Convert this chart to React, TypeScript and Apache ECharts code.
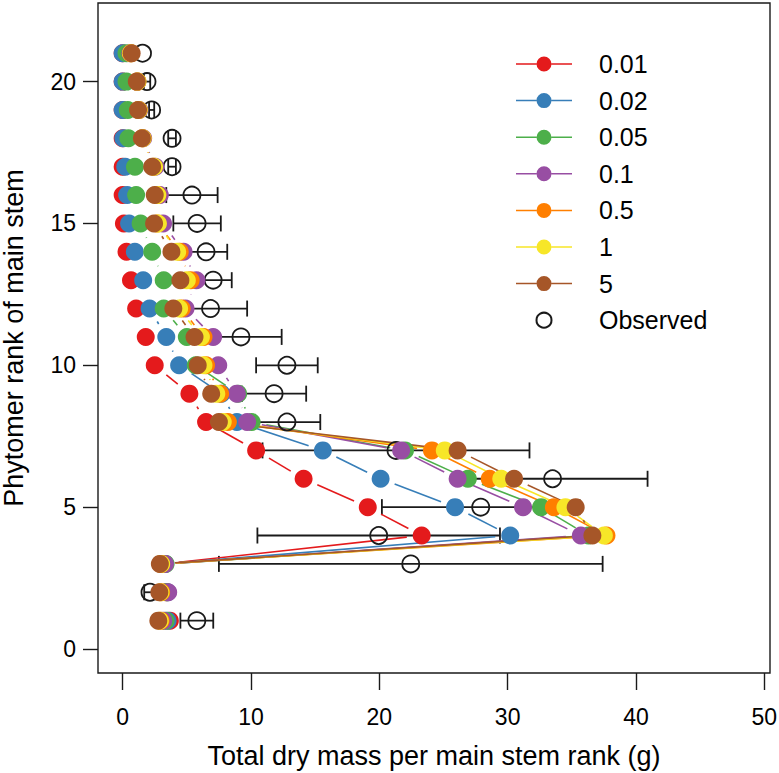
import React, { useEffect, useRef } from 'react';
import * as echarts from 'echarts';

// Phytomer ranks of the main stem
const ranks = [1, 2, 3, 4, 5, 6, 7, 8, 9, 10, 11, 12, 13, 14, 15, 16, 17, 18, 19, 20, 21];

const modelNames = ['0.01', '0.02', '0.05', '0.1', '0.5', '1', '5'];
const modelColors = ['#E41A1C', '#377EB8', '#4DAF4A', '#984EA3', '#FF7F00', '#F7E628', '#A65628'];

// Total dry mass (g) per rank, one array per model setting (rank 1 .. 21)
const mass001 = [3.68, 3.4, 3.2, 23.3, 19.1, 14.1, 10.4, 6.5, 5.2, 2.5, 1.8, 1.05, 0.65, 0.3, 0.1, 0.0, 0.0, 0.0, 0.0, 0.0, 0.0];
const mass002 = [3.5, 3.5, 3.3, 30.2, 25.9, 20.1, 15.6, 8.9, 7.7, 4.4, 3.4, 2.1, 1.6, 0.95, 0.5, 0.35, 0.2, 0.05, 0.0, 0.0, 0.0];
const mass005 = [3.35, 3.45, 3.35, 36.3, 32.6, 26.9, 22.0, 10.05, 9.0, 5.7, 5.0, 3.2, 3.2, 2.3, 1.4, 1.05, 0.96, 0.45, 0.4, 0.3, 0.3];
const mass01 = [3.17, 3.55, 3.3, 35.7, 31.2, 26.1, 21.7, 9.7, 8.9, 7.45, 7.05, 4.9, 5.75, 4.75, 3.15, 2.9, 2.55, 1.6, 1.3, 1.15, 0.6];
const mass05 = [2.96, 3.0, 3.0, 37.7, 33.6, 28.6, 24.1, 8.2, 7.6, 6.5, 6.3, 4.6, 5.3, 4.45, 2.7, 2.7, 2.4, 1.55, 1.25, 1.15, 0.65];
const mass1 = [2.9, 2.95, 3.0, 37.5, 34.5, 29.5, 25.1, 7.8, 7.3, 6.3, 6.1, 4.4, 5.0, 4.25, 2.75, 2.7, 2.45, 1.55, 1.25, 1.15, 0.65];
const mass5 = [2.78, 2.86, 2.9, 36.6, 35.3, 30.5, 26.1, 7.5, 6.9, 5.85, 5.6, 3.95, 4.5, 3.8, 2.45, 2.5, 2.3, 1.5, 1.2, 1.1, 0.7];
const modelValues = [mass001, mass002, mass005, mass01, mass05, mass1, mass5];

// Observed mean and half-width of the error bar (rank 1 .. 21)
const observedMass = [5.78, 2.13, 22.45, 19.95, 27.9, 33.5, 21.3, 12.8, 11.8, 12.8, 9.22, 6.85, 7.05, 6.5, 5.8, 5.4, 3.85, 3.85, 2.26, 1.9, 1.55];
const observedErr = [1.28, 0.45, 14.95, 9.45, 7.7, 7.4, 10.4, 2.6, 2.5, 2.4, 3.17, 2.85, 1.45, 1.65, 1.85, 2.0, 0.3, 0.3, 0.2, 0.25, 0];

const xTicks = [0, 10, 20, 30, 40, 50];
const yTicks = [0, 5, 10, 15, 20];

const FONT = '"Liberation Sans", Arial, Helvetica, sans-serif';
const GAP = 15;
const INK = '#1a1a1a';
const LEGEND_ICON =
  'path://M0,6.75L20.5,6.75L20.5,8.25L0,8.25Z M35.5,6.75L56,6.75L56,8.25L35.5,8.25Z M20.5,7.5A7.5,7.5 0 1,1 35.5,7.5A7.5,7.5 0 1,1 20.5,7.5Z';

export default function App() {
  const ref = useRef<HTMLDivElement>(null);

  useEffect(() => {
    document.body.style.margin = '0';
    const chart = echarts.init(ref.current as HTMLDivElement, null, { renderer: 'svg' });

    const series: any[] = [];

    series.push({
      type: 'custom',
      name: 'Observed error',
      coordinateSystem: 'cartesian2d',
      silent: true,
      data: ranks.map((r, i) => [observedMass[i] - observedErr[i], observedMass[i] + observedErr[i], r]),
      encode: { x: [0, 1], y: 2 },
      renderItem: (params: any, api: any) => {
        const lo = api.value(0);
        const hi = api.value(1);
        const r = api.value(2);
        if (hi - lo <= 0) return { type: 'group', children: [] };
        const a = api.coord([lo, r]);
        const b = api.coord([hi, r]);
        const style = { stroke: INK, lineWidth: 1.8, fill: null };
        const h = 8;
        return {
          type: 'group',
          children: [
            { type: 'line', shape: { x1: a[0], y1: a[1], x2: b[0], y2: b[1] }, style },
            { type: 'line', shape: { x1: a[0], y1: a[1] - h, x2: a[0], y2: a[1] + h }, style },
            { type: 'line', shape: { x1: b[0], y1: b[1] - h, x2: b[0], y2: b[1] + h }, style },
          ],
        };
      },
    });

    series.push({
      type: 'scatter',
      name: 'Observed',
      data: ranks.map((r, i) => [observedMass[i], r]),
      symbol: 'circle',
      symbolSize: 17,
      silent: true,
      itemStyle: { color: 'transparent', borderColor: INK, borderWidth: 1.8, opacity: 1 },
    });

    modelValues.forEach((vals, k) => {
      const color = modelColors[k];
      series.push({
        type: 'custom',
        name: modelNames[k] + ' line',
        coordinateSystem: 'cartesian2d',
        silent: true,
        data: ranks.slice(0, -1).map((r, i) => [vals[i], r, vals[i + 1], ranks[i + 1]]),
        encode: { x: [0, 2], y: [1, 3] },
        itemStyle: { color },
        renderItem: (params: any, api: any) => {
          const p1 = api.coord([api.value(0), api.value(1)]);
          const p2 = api.coord([api.value(2), api.value(3)]);
          const dx = p2[0] - p1[0];
          const dy = p2[1] - p1[1];
          const len = Math.hypot(dx, dy);
          if (len <= 2 * GAP) return { type: 'group', children: [] };
          const ux = dx / len;
          const uy = dy / len;
          return {
            type: 'line',
            shape: {
              x1: p1[0] + ux * GAP,
              y1: p1[1] + uy * GAP,
              x2: p2[0] - ux * GAP,
              y2: p2[1] - uy * GAP,
            },
            style: { stroke: color, lineWidth: 1.6, fill: null },
          };
        },
      });
      series.push({
        type: 'scatter',
        name: modelNames[k],
        data: ranks.map((r, i) => [vals[i], r]),
        symbol: 'circle',
        symbolSize: 18,
        silent: true,
        itemStyle: { color, opacity: 1 },
      });
    });

    chart.setOption({
      animation: false,
      backgroundColor: '#ffffff',
      grid: {
        left: 98,
        top: 3,
        right: 9,
        bottom: 100,
        show: true,
        containLabel: false,
        outerBoundsMode: 'none',
        borderColor: INK,
        borderWidth: 1.4,
        backgroundColor: 'transparent',
      },
      legend: {
        orient: 'vertical',
        left: 516,
        top: 51.5,
        padding: 0,
        itemWidth: 56,
        itemHeight: 15,
        itemGap: 11.6,
        selectedMode: false,
        data: [
          ...modelNames.map((n) => ({ name: n, icon: LEGEND_ICON })),
          { name: 'Observed', icon: 'circle' },
        ],
        textStyle: { fontSize: 25, fontFamily: FONT, color: '#000', padding: [0, 0, 0, 22] },
      },
      xAxis: {
        type: 'value',
        min: -1.92,
        max: 50.44,
        name: 'Total dry mass per main stem rank (g)',
        nameLocation: 'middle',
        nameGap: 69,
        nameTextStyle: { fontSize: 27, fontFamily: FONT, color: '#000' },
        axisLine: { show: false, onZero: false },
        splitLine: { show: false },
        axisTick: { show: true, length: 17, customValues: xTicks, lineStyle: { color: INK, width: 1.4 } },
        axisLabel: { customValues: xTicks, margin: 32, fontSize: 23, fontFamily: FONT, color: '#000' },
      },
      yAxis: {
        type: 'value',
        min: -0.846,
        max: 22.77,
        name: 'Phytomer rank of main stem',
        nameLocation: 'middle',
        nameGap: 71,
        nameTextStyle: { fontSize: 27, fontFamily: FONT, color: '#000' },
        axisLine: { show: false, onZero: false },
        splitLine: { show: false },
        axisTick: { show: true, length: 15, customValues: yTicks, lineStyle: { color: INK, width: 1.4 } },
        axisLabel: { customValues: yTicks, margin: 22, fontSize: 23, fontFamily: FONT, color: '#000' },
      },
      series,
    });

    return () => {
      chart.dispose();
    };
  }, []);

  return <div ref={ref} style={{ width: 779, height: 773, overflow: 'hidden' }} />;
}
